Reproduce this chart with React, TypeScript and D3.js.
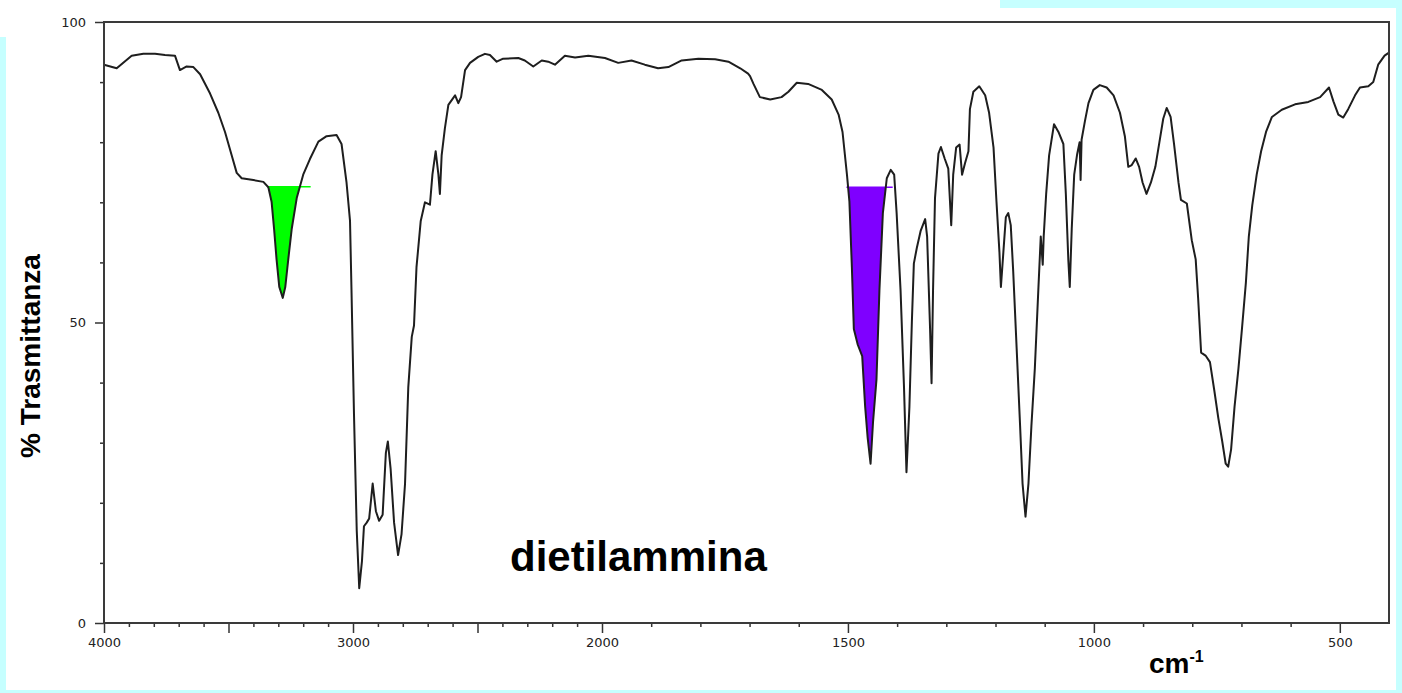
import { useRef, useEffect } from 'react';
import * as d3 from 'd3';

// IR spectrum of diethylamine (cm-1 vs % transmittance)
const wavenumbers = [
  4000, 3949, 3889, 3842, 3795, 3755, 3715, 3695, 3668, 3641, 3614, 3574, 3541, 3514, 3487, 3467,
  3447, 3400, 3360, 3340, 3327, 3317, 3307, 3296, 3282, 3272, 3260, 3246, 3226, 3200, 3173, 3139,
  3106, 3066, 3046, 3026, 3012, 3006, 2996, 2985, 2975, 2964, 2956, 2945, 2935, 2921, 2908, 2895,
  2881, 2868, 2860, 2849, 2835, 2819, 2805, 2791, 2778, 2764, 2755, 2745, 2728, 2711, 2691, 2681,
  2668, 2657, 2651, 2644, 2631, 2617, 2590, 2577, 2566, 2550, 2530, 2497, 2470, 2450, 2423, 2397,
  2336, 2310, 2276, 2242, 2216, 2189, 2149, 2108, 2055, 1994, 1967, 1940, 1913, 1886, 1865, 1838,
  1804, 1770, 1743, 1719, 1703, 1699, 1692, 1679, 1658, 1635, 1621, 1604, 1581, 1553, 1533, 1519,
  1511, 1502, 1497, 1492, 1488, 1480, 1471, 1465, 1460, 1454, 1449, 1442, 1436, 1429, 1421, 1413,
  1406, 1401, 1393, 1386, 1381, 1375, 1370, 1366, 1360, 1352, 1343, 1339, 1333, 1330, 1327, 1323,
  1316, 1311, 1303, 1296, 1290, 1286, 1280, 1273, 1268, 1262, 1255, 1252, 1245, 1233, 1221, 1213,
  1204, 1198, 1192, 1189, 1184, 1179, 1174, 1169, 1164, 1157, 1150, 1145, 1139, 1133, 1127, 1120,
  1113, 1108, 1104, 1102, 1097, 1091, 1081, 1072, 1062, 1057, 1052, 1049, 1045, 1040, 1034, 1029,
  1027, 1025, 1018, 1011, 1001, 988, 974, 960, 947, 937, 930, 923, 915, 908, 901, 893,
  884, 875, 866, 859, 852, 844, 837, 828, 823, 811, 801, 793, 788, 782, 773, 764,
  755, 747, 739, 732, 727, 721, 714, 706, 699, 691, 685, 678, 669, 660, 650, 638,
  618, 591, 564, 540, 522, 513, 503, 493, 483, 469, 459, 442, 432, 422, 409, 400,
];

const transmittance = [
  92.9, 92.3, 94.4, 94.7, 94.7, 94.5, 94.4, 92.0, 92.6, 92.5, 91.3, 88.1, 84.9, 81.7, 77.8, 74.9,
  74.0, 73.7, 73.4, 72.5, 70.1, 65.6, 60.5, 55.9, 54.1, 55.9, 60.5, 65.6, 70.7, 74.6, 77.2, 80.1,
  81.0, 81.2, 79.7, 73.3, 66.9, 55.3, 34.7, 15.4, 5.8, 10.3, 16.1, 16.7, 17.4, 23.2, 18.6, 17.0,
  18.0, 28.3, 30.2, 25.7, 16.7, 11.3, 14.8, 23.2, 39.2, 47.6, 49.5, 59.2, 66.9, 70.0, 69.6, 74.6,
  78.5, 74.6, 71.4, 77.8, 82.3, 86.2, 87.8, 86.5, 87.5, 92.0, 93.2, 94.2, 94.7, 94.5, 93.4, 93.9,
  94.0, 93.6, 92.6, 93.6, 93.4, 92.9, 94.4, 94.1, 94.4, 94.0, 93.2, 93.6, 92.9, 92.3, 92.5, 93.6,
  93.9, 93.8, 93.4, 92.3, 91.4, 91.0, 89.7, 87.5, 87.1, 87.5, 88.4, 89.9, 89.7, 88.7, 87.1, 84.6,
  81.7, 74.6, 70.1, 59.2, 48.9, 46.3, 44.4, 36.0, 30.9, 26.5, 33.4, 40.5, 55.3, 68.2, 74.0, 75.4,
  74.6, 68.2, 55.3, 39.2, 25.1, 36.0, 50.2, 59.8, 62.4, 65.3, 67.2, 64.3, 48.9, 39.9, 55.3, 70.7,
  78.1, 79.2, 77.2, 75.6, 66.2, 74.6, 79.1, 79.6, 74.6, 76.5, 78.5, 85.5, 88.4, 89.3, 87.8, 84.9,
  79.1, 70.1, 61.7, 55.9, 61.7, 67.5, 68.2, 66.2, 58.5, 45.7, 32.8, 23.2, 17.7, 23.2, 32.8, 42.4,
  55.3, 64.3, 59.6, 64.3, 71.4, 77.8, 83.0, 81.7, 79.7, 71.4, 60.5, 55.9, 65.6, 74.6, 78.0, 80.0,
  73.7, 80.4, 83.6, 86.5, 88.7, 89.5, 89.1, 87.8, 84.9, 81.0, 75.9, 76.2, 77.3, 75.9, 73.3, 71.4,
  73.3, 75.9, 80.4, 83.9, 85.7, 84.2, 79.7, 73.3, 70.4, 69.8, 63.7, 60.5, 54.0, 45.0, 44.5, 43.4,
  38.6, 34.1, 30.2, 26.5, 26.0, 28.9, 36.0, 42.4, 48.9, 56.6, 64.3, 69.5, 74.6, 78.5, 81.7, 84.2,
  85.4, 86.3, 86.7, 87.5, 89.1, 86.8, 84.6, 84.1, 85.5, 87.8, 89.1, 89.3, 90.0, 92.9, 94.4, 94.9,
];

const xTickLabels = [4000, 3000, 2000, 1500, 1000, 500];
const yTickLabels = [0, 50, 100];

// highlighted bands: N-H stretch and N-H / CH2 bend
const bandFrom = [3345, 1503];
const bandTo = [3200, 1424];
const bandLineTo = [3170, 1409];
const bandLevel = [72.6, 72.5];
const bandColors = ['#00ff00', '#7f00ff'];

export default function App() {
  const svgRef = useRef<SVGSVGElement>(null);

  useEffect(() => {
    if (!svgRef.current) return;
    const width = 1402;
    const height = 693;
    const svg = d3.select(svgRef.current);
    svg.selectAll('*').remove();
    svg.attr('width', width).attr('height', height);

    // slide background
    svg.append('rect').attr('width', width).attr('height', height).attr('fill', '#c6ffff');
    svg.append('rect').attr('x', 6).attr('y', 8).attr('width', 1390).attr('height', 682).attr('fill', '#ffffff');
    svg.append('rect').attr('x', 0).attr('y', 0).attr('width', 1000).attr('height', 37).attr('fill', '#ffffff');

    const left = 104, right = 1389, top = 22, bottom = 623;

    // the instrument uses a 2x expanded scale below 2000 cm-1
    const x = d3.scaleLinear().domain([4000, 2000, 400]).range([left, 602, right]);
    const y = d3.scaleLinear().domain([0, 100]).range([bottom, top]);

    const data = wavenumbers.map((w, i) => ({ w, t: transmittance[i] }));

    // band fills: region above the trace and below the baseline
    const areaAbove = d3.area<{ w: number; t: number }>()
      .x(d => x(d.w))
      .y0(y(100))
      .y1(d => y(d.t));

    bandFrom.forEach((from, i) => {
      const id = `band-clip-${i}`;
      svg.append('clipPath').attr('id', id)
        .append('rect')
        .attr('x', x(from))
        .attr('y', y(bandLevel[i]))
        .attr('width', x(bandTo[i]) - x(from))
        .attr('height', y(0) - y(bandLevel[i]));
      svg.append('path')
        .datum(data)
        .attr('d', areaAbove)
        .attr('fill', bandColors[i])
        .attr('clip-path', `url(#${id})`);
      svg.append('line')
        .attr('x1', x(from))
        .attr('x2', x(bandLineTo[i]))
        .attr('y1', y(bandLevel[i]))
        .attr('y2', y(bandLevel[i]))
        .attr('stroke', bandColors[i])
        .attr('stroke-width', 1.5);
    });

    // spectrum trace
    svg.append('path')
      .datum(data)
      .attr('d', d3.line<{ w: number; t: number }>().x(d => x(d.w)).y(d => y(d.t)))
      .attr('fill', 'none')
      .attr('stroke', '#1e1e1e')
      .attr('stroke-width', 2)
      .attr('stroke-linejoin', 'round');

    // X axis
    svg.append('g')
      .attr('transform', `translate(0,${bottom})`)
      .call(d3.axisBottom(x)
        .tickValues(d3.range(500, 4001, 100))
        .tickSize(4)
        .tickSizeOuter(0)
        .tickFormat(d => (xTickLabels.includes(+d) ? String(d) : '')))
      .call(g => g.select('.domain').remove())
      .call(g => g.selectAll<SVGLineElement, number>('.tick line')
        .attr('stroke', '#333')
        .attr('stroke-width', 1.5)
        .attr('y2', d => (d % 500 === 0 ? 10 : 4)))
      .call(g => g.selectAll('.tick text')
        .attr('y', 15)
        .attr('fill', '#222')
        .attr('font-family', 'DejaVu Sans, sans-serif')
        .attr('font-size', '13px'));

    // Y axis
    svg.append('g')
      .attr('transform', `translate(${left},0)`)
      .call(d3.axisLeft(y)
        .tickValues(d3.range(0, 101, 10))
        .tickSize(4)
        .tickSizeOuter(0)
        .tickFormat(d => (yTickLabels.includes(+d) ? String(d) : '')))
      .call(g => g.select('.domain').remove())
      .call(g => g.selectAll<SVGLineElement, number>('.tick line')
        .attr('stroke', '#333')
        .attr('stroke-width', 1.5)
        .attr('x2', d => (d % 50 === 0 ? -9 : -4)))
      .call(g => g.selectAll('.tick text')
        .attr('x', -18)
        .attr('fill', '#222')
        .attr('font-family', 'DejaVu Sans, sans-serif')
        .attr('font-size', '13px'));

    // frame
    svg.append('rect')
      .attr('x', left).attr('y', top)
      .attr('width', right - left).attr('height', bottom - top)
      .attr('fill', 'none')
      .attr('stroke', '#3a3a3a')
      .attr('stroke-width', 2);

    // labels
    svg.append('text')
      .attr('transform', 'translate(40,356) rotate(-90)')
      .attr('text-anchor', 'middle')
      .attr('font-family', 'Liberation Sans, Arial, sans-serif')
      .attr('font-weight', 'bold')
      .attr('font-size', '28px')
      .text('% Trasmittanza');

    svg.append('text')
      .attr('x', 510).attr('y', 571)
      .attr('font-family', 'Liberation Sans, Arial, sans-serif')
      .attr('font-weight', 'bold')
      .attr('font-size', '42px')
      .text('dietilammina');

    const unit = svg.append('text')
      .attr('x', 1149).attr('y', 673)
      .attr('font-family', 'Liberation Sans, Arial, sans-serif')
      .attr('font-weight', 'bold')
      .attr('font-size', '28px');
    unit.append('tspan').text('cm');
    unit.append('tspan').attr('dy', -11).attr('font-size', '16px').text('-1');
  }, []);

  return <svg ref={svgRef} style={{ position: 'absolute', left: 0, top: 0, display: 'block' }} />;
}
